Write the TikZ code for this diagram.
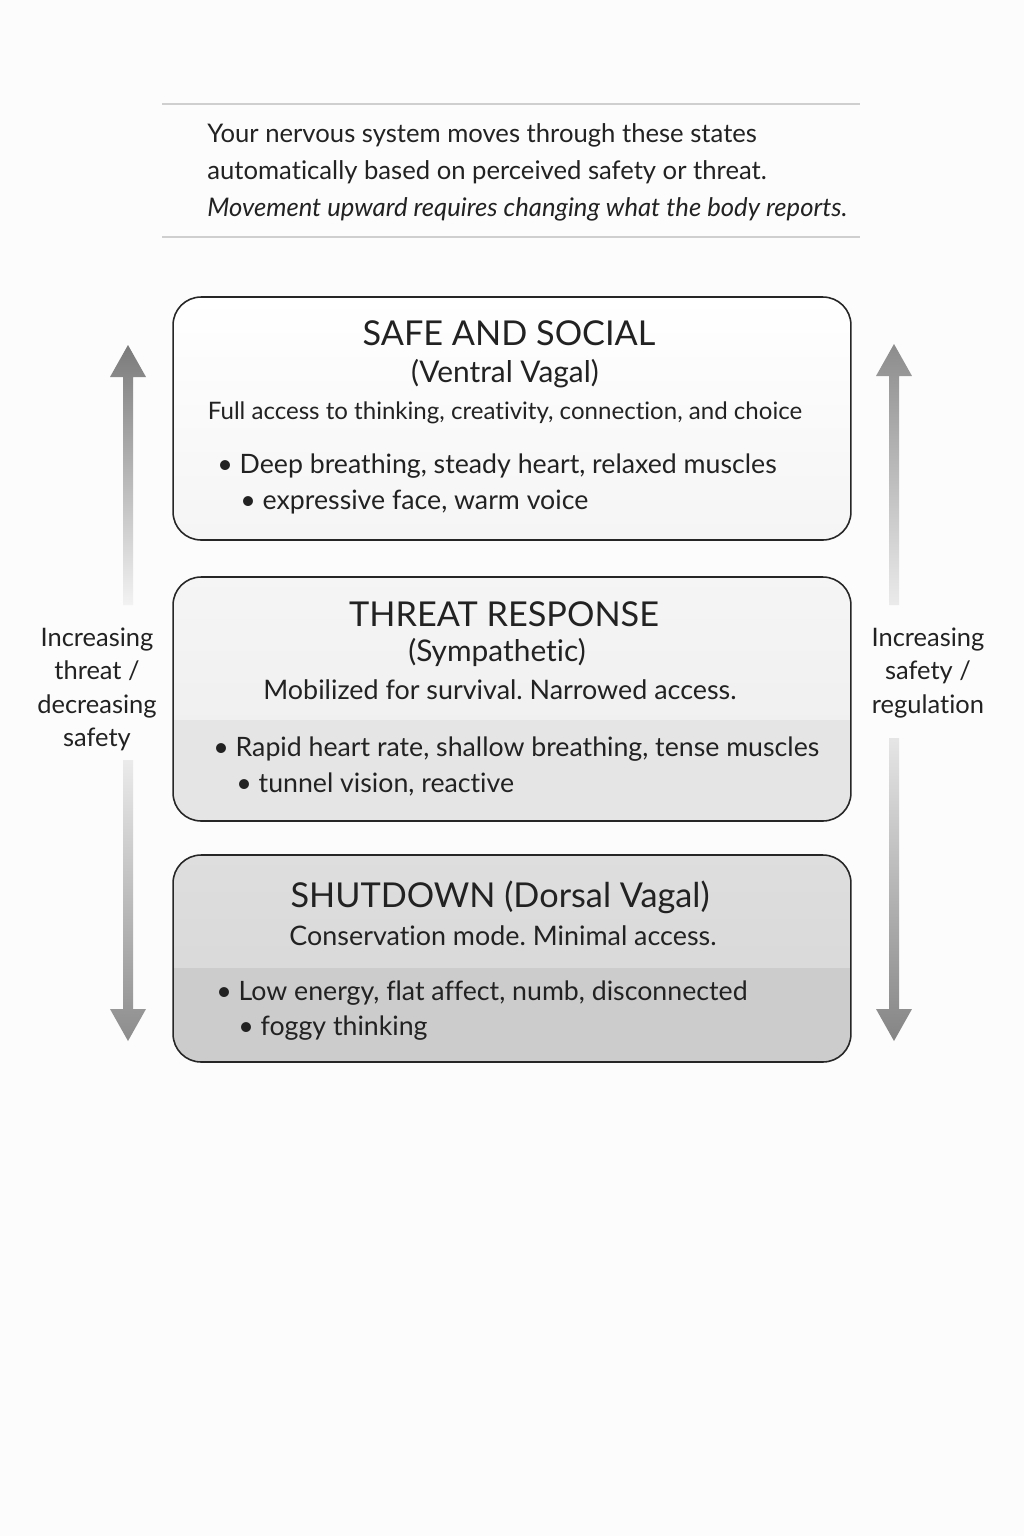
\documentclass[tikz,border=0pt]{standalone}
\usepackage{fontspec}
\setmainfont{Lato}[Ligatures=NoCommon]
\usetikzlibrary{positioning}
\frenchspacing

\definecolor{ink}{HTML}{222222}
\definecolor{paper}{HTML}{FDFCFD}
\definecolor{rulegray}{HTML}{CFCFCF}

\tikzset{
  statebox/.style={draw=black!85, line width=0.9pt, rounded corners=0.56cm,
    minimum width=13.56cm, inner sep=0pt},
  band/.style 2 args={path picture={\fill[#1, sharp corners] (path picture bounding box.south west)
    rectangle ([yshift=#2]path picture bounding box.south east);}},
  title/.style={font=\fontsize{19.5}{23}\selectfont, text=ink, anchor=base, inner sep=0pt},
  subtitle/.style={font=\fontsize{17}{20}\selectfont, text=ink, anchor=base, inner sep=0pt},
  access/.style={font=\fontsize{13.7}{16}\selectfont, text=ink, anchor=base, inner sep=0pt},
  bullet/.style={font=\fontsize{15.2}{18}\selectfont, text=ink, anchor=base west, inner sep=0pt},
  intro/.style={font=\fontsize{14.6}{17}\selectfont, text=ink, anchor=base west, inner sep=0pt},
  side/.style={font=\fontsize{14.5}{17}\selectfont, text=ink, anchor=base, inner sep=0pt},
}

% shaded arrow: x, tail y, head base y, tip y, top colour, bottom colour
\newcommand{\shadedarrow}[6]{%
  \shade[top color=#5, bottom color=#6]
    (#1-5,#2) -- (#1-5,#3) -- (#1-18,#3) -- (#1,#4) -- (#1+18,#3)
    -- (#1+5,#3) -- (#1+5,#2) -- cycle;}

\begin{document}
\begin{tikzpicture}[x=0.02cm, y=-0.02cm]

\fill[paper] (0,0) rectangle (1024,1536);
\useasboundingbox (0,0) rectangle (1024,1536);

% intro
\draw[rulegray, line width=0.6pt] (162,104) -- (860,104);
\draw[rulegray, line width=0.6pt] (162,237) -- (860,237);
\node[intro] (intro1) at (207,142) {Your nervous system moves through these states};
\node[intro] (intro2) at (207,179) {automatically based on perceived safety or threat.};
\node[intro] (intro3) at (207,216) {\itshape Movement upward requires changing what the body reports.};

% states
\node[statebox, minimum height=4.86cm, top color=white, bottom color=black!4]
  (safe) at (512,418.5) {};
\node[statebox, minimum height=4.88cm, top color=black!4, bottom color=black!7,
  band={black!10}{2.02cm}] (threat) at (512,699) {};
\node[statebox, minimum height=4.14cm, top color=black!13, bottom color=black!16,
  band={black!20}{1.88cm}] (shut) at (512,958.5) {};

\node[title] (safe-t) at (509,345) {SAFE AND SOCIAL};
\node[subtitle] (safe-s) at (505,382) {(Ventral Vagal)};
\node[access] (safe-a) at (505,419) {Full access to thinking, creativity, connection, and choice};
\node[bullet] (safe-b1) at (217,473) {• Deep breathing, steady heart, relaxed muscles};
\node[bullet] (safe-b2) at (240,509) {• expressive face, warm voice};

\node[title] (threat-t) at (504,626) {THREAT RESPONSE};
\node[subtitle] (threat-s) at (497,661) {(Sympathetic)};
\node[subtitle] (threat-a) at (500,699) {\fontsize{15.3}{18}\selectfont Mobilized for survival. Narrowed access.};
\node[bullet] (threat-b1) at (213,756) {• Rapid heart rate, shallow breathing, tense muscles};
\node[bullet] (threat-b2) at (236,792) {• tunnel vision, reactive};

\node[title] (shut-t) at (500,907) {SHUTDOWN (Dorsal Vagal)};
\node[subtitle] (shut-a) at (503,945) {\fontsize{15.3}{18}\selectfont Conservation mode. Minimal access.};
\node[bullet] (shut-b1) at (216,1000) {• Low energy, flat affect, numb, disconnected};
\node[bullet] (shut-b2) at (238,1035) {• foggy thinking};

% side arrows
\shadedarrow{128}{605}{377}{345}{black!52}{black!5}
\shadedarrow{128}{760}{1009}{1041}{black!8}{black!45}
\shadedarrow{894}{605}{376}{344}{black!45}{black!8}
\shadedarrow{894}{738}{1009}{1041}{black!10}{black!48}

\node[side] (left1) at (97,646) {Increasing};
\node[side] (left2) at (97,679) {threat /};
\node[side] (left3) at (97,713) {decreasing};
\node[side] (left4) at (97,746) {safety};
\node[side] (right1) at (928,646) {Increasing};
\node[side] (right2) at (928,679) {safety /};
\node[side] (right3) at (928,713) {regulation};

\end{tikzpicture}
\end{document}
